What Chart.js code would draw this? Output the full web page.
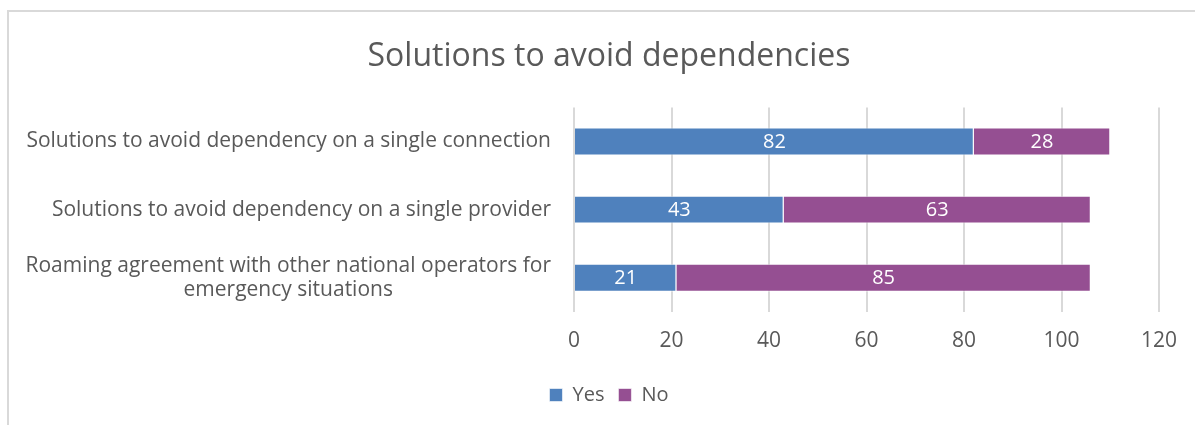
<!DOCTYPE html>
<html lang="en">

<head>
    <meta charset="UTF-8">
    <title>Solutions to avoid dependencies</title>
    <script src="https://cdn.jsdelivr.net/npm/chart.js"></script>
    <style>
        body {
            margin: 0;
            background: #ffffff;
        }

        .moldura {
            position: absolute;
            left: 7px;
            top: 10px;
            width: 1200px;
            height: 430px;
            border-left: 2px solid #d9d9d9;
            border-top: 2px solid #d9d9d9;
        }

        .grafico {
            position: absolute;
            left: 0;
            top: 0;
            width: 1195px;
            height: 425px;
        }
    </style>
</head>

<body>
    <div class="moldura"></div>
    <div class="grafico">
        <canvas id="graficoBarras"></canvas>
    </div>
</body>

</html>

<script>
    // dados do grafico
    const categorias = [
        'Solutions to avoid dependency on a single connection',
        'Solutions to avoid dependency on a single provider',
        ['Roaming agreement with other national operators for', 'emergency situations']
    ];
    const valoresSim = [82, 43, 21];
    const valoresNao = [28, 63, 85];
    const ticksX = [0, 20, 40, 60, 80, 100, 120];

    const fonte = '"Open Sans", Lato, sans-serif';
    const corTexto = '#595959';

    // rotulos das categorias, centralizados linha a linha como no Excel
    const rotulosCategorias = {
        id: 'rotulosCategorias',
        afterDraw(chart) {
            const ctx = chart.ctx;
            const escalaY = chart.scales.y;
            const direita = chart.chartArea.left - 23;
            ctx.save();
            ctx.font = '21px ' + fonte;
            ctx.fillStyle = corTexto;
            ctx.textBaseline = 'middle';
            categorias.forEach(function (rotulo, i) {
                const linhas = Array.isArray(rotulo) ? rotulo : [rotulo];
                const larguraMax = Math.max(...linhas.map(l => ctx.measureText(l).width));
                const centroX = direita - larguraMax / 2;
                const y0 = escalaY.getPixelForValue(i) - (linhas.length - 1) * 12;
                ctx.textAlign = 'center';
                linhas.forEach(function (linha, j) {
                    ctx.fillText(linha, centroX, y0 + j * 24);
                });
            });
            ctx.restore();
        }
    };

    // valores dentro de cada segmento
    const valoresBarras = {
        id: 'valoresBarras',
        afterDatasetsDraw(chart) {
            const ctx = chart.ctx;
            ctx.save();
            ctx.font = '20px ' + fonte;
            ctx.fillStyle = '#ffffff';
            ctx.textAlign = 'center';
            ctx.textBaseline = 'middle';
            chart.data.datasets.forEach(function (ds, d) {
                chart.getDatasetMeta(d).data.forEach(function (barra, i) {
                    const centro = barra.getCenterPoint();
                    ctx.fillText(ds.data[i], centro.x, centro.y + 1);
                });
            });
            ctx.restore();
        }
    };

    const dados = {
        labels: categorias,
        datasets: [{
            label: 'Yes',
            data: valoresSim,
            backgroundColor: 'rgb(79, 129, 189)',
            borderColor: 'rgba(255, 255, 255, 0.6)',
            borderWidth: 1,
            categoryPercentage: 1,
            barPercentage: 0.41
        }, {
            label: 'No',
            data: valoresNao,
            backgroundColor: 'rgb(149, 79, 146)',
            borderColor: 'rgba(255, 255, 255, 0.6)',
            borderWidth: 1,
            categoryPercentage: 1,
            barPercentage: 0.41
        }]
    };

    const config = {
        type: 'bar',
        data: dados,
        plugins: [rotulosCategorias, valoresBarras],
        options: {
            indexAxis: 'y',
            responsive: true,
            maintainAspectRatio: false,
            animation: false,
            layout: {
                padding: { left: 23, right: 0, top: 0, bottom: 10 }
            },
            plugins: {
                title: {
                    display: true,
                    text: 'Solutions to avoid dependencies',
                    color: corTexto,
                    font: { family: fonte, size: 32, weight: 'normal' },
                    padding: { top: 38, bottom: 31 }
                },
                legend: {
                    position: 'bottom',
                    labels: {
                        color: corTexto,
                        font: { family: fonte, size: 20 },
                        boxWidth: 13,
                        boxHeight: 13,
                        padding: 14
                    }
                },
                tooltip: { enabled: false }
            },
            scales: {
                x: {
                    stacked: true,
                    min: 0,
                    max: 120,
                    afterBuildTicks(escala) {
                        escala.ticks = ticksX.map(v => ({ value: v }));
                    },
                    afterFit(escala) {
                        escala.paddingLeft = 0;
                        escala.paddingRight = 36;
                    },
                    grid: {
                        color: '#d9d9d9',
                        lineWidth: 2,
                        drawTicks: false
                    },
                    border: { display: false },
                    ticks: {
                        color: corTexto,
                        font: { family: fonte, size: 21 },
                        padding: 17
                    }
                },
                y: {
                    stacked: true,
                    grid: { display: false },
                    border: { display: false },
                    ticks: { display: false },
                    afterFit(escala) {
                        escala.width = 551;
                    }
                }
            }
        }
    };

    let graficoBarras = new Chart(
        document.getElementById('graficoBarras'),
        config
    );
</script>
